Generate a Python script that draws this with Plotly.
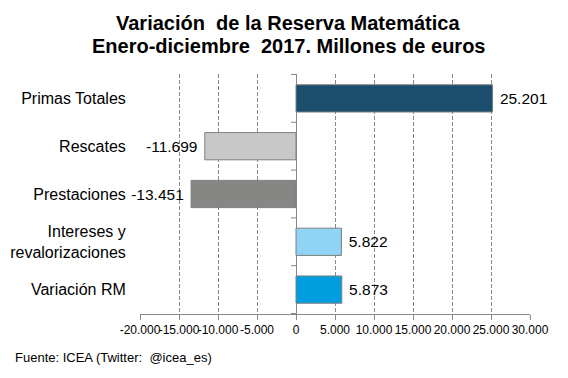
import plotly.graph_objects as go

categories = ["Primas Totales", "Rescates", "Prestaciones", "Intereses y<br>revalorizaciones", "Variación RM"]
values = [25201, -11699, -13451, 5822, 5873]
colors = ["#1b4e6d", "#c8c8c8", "#868784", "#8fd3f6", "#009ddf"]
x_ticks = [-20000, -15000, -10000, -5000, 0, 5000, 10000, 15000, 20000, 25000, 30000]
x_tick_labels = ["-20.000", "-15.000", "-10.000", "-5.000", "0", "5.000", "10.000",
                 "15.000", "20.000", "25.000", "30.000"]

NB = "\u00a0"
templates = [(NB + "%{x:,}") if v >= 0 else ("%{x:,}" + NB) for v in values]
FONT = "Arial, Liberation Sans, sans-serif"

fig = go.Figure()
fig.add_trace(go.Bar(
    y=categories, x=values, orientation="h",
    marker=dict(color=colors, line=dict(color="#7f7f7f", width=1)),
    texttemplate=templates, textposition="outside",
    textfont=dict(family=FONT, size=15.5, color="#000"),
    cliponaxis=False, width=0.57,
))

# small tick marks on the zero line at category boundaries
for i in range(len(categories) + 1):
    fig.add_shape(type="line", xref="x", yref="y", xsizemode="pixel", xanchor=0,
                  x0=-5, x1=0, y0=i - 0.5, y1=i - 0.5,
                  line=dict(color="#888888", width=1))

fig.update_layout(
    width=560, height=370,
    margin=dict(l=132, r=38, t=66, b=64),
    paper_bgcolor="white", plot_bgcolor="white",
    separators=",.",
    showlegend=False,
    font=dict(family=FONT, color="#000"),
    annotations=[
        dict(text="<b>Variación  de la Reserva Matemática</b>", xref="paper", yref="paper",
             x=(288 - 140) / 390, y=(314 - 23) / 240, xanchor="center", yanchor="middle",
             showarrow=False, font=dict(family=FONT, size=20, color="#000")),
        dict(text="<b>Enero-diciembre  2017. Millones de euros</b>", xref="paper", yref="paper",
             x=(288 - 140) / 390, y=(314 - 46) / 240, xanchor="center", yanchor="middle",
             showarrow=False, font=dict(family=FONT, size=20, color="#000")),
        dict(text="Fuente: ICEA (Twitter:  @icea_es)", xref="paper", yref="paper",
             x=(13 - 140) / 390, y=(314 - 357) / 240, xanchor="left", yanchor="middle",
             showarrow=False, font=dict(family=FONT, size=13, color="#000")),
    ],
)
fig.update_xaxes(
    range=[-20000, 30000], tickvals=x_ticks, ticktext=x_tick_labels, tickangle=0, automargin=False,
    showgrid=True, gridcolor="#8a8a8a", griddash="4px,2px", gridwidth=1,
    zeroline=True, zerolinecolor="#888888", zerolinewidth=1,
    showline=True, linecolor="#888888", linewidth=1,
    ticks="outside", ticklen=5, tickcolor="#888888",
    tickfont=dict(size=12, family=FONT, color="#000"),
)
fig.update_yaxes(
    categoryorder="array", categoryarray=categories, autorange="reversed", automargin=False,
    showgrid=False, showline=False, ticks="outside", ticklen=10, tickcolor="rgba(0,0,0,0)",
    tickfont=dict(size=16, family=FONT, color="#000"),
)
fig.write_html("out.html")
